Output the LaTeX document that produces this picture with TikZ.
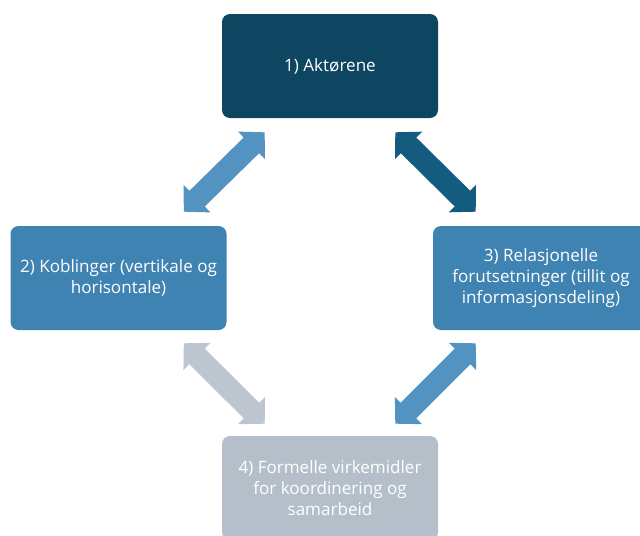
\documentclass[tikz,border=0pt]{standalone}
\usepackage{fontspec}
\setmainfont{Open Sans}
\usetikzlibrary{arrows.meta,calc}
\definecolor{cTop}{HTML}{0E4560}
\definecolor{cMid}{HTML}{3F83B2}
\definecolor{cLow}{HTML}{B4BFCA}
\definecolor{aBlue}{HTML}{5393C1}
\definecolor{aDark}{HTML}{135B7F}
\definecolor{aGrey}{HTML}{BDC6D0}
\begin{document}
\begin{tikzpicture}[x=0.75pt,y=-0.75pt,
  box/.style={rounded corners=6pt, minimum width=162pt, minimum height=78pt,
    align=center, text=white, inner sep=0pt,
    font=\fontsize{12.8}{15.8}\selectfont},
  link/.style={line width=16.5pt,
    {Triangle[length=14pt,width=28pt]}-{Triangle[length=14pt,width=28pt]}}]
\useasboundingbox (0,0) rectangle (640,536);
\clip (0,0) rectangle (640,536);
\node[box, fill=cTop] (b1) at (330,66) {1) Aktørene};
\node[box, fill=cMid] (b2) at (118.5,278) {2) Koblinger (vertikale og\\horisontale)};
\node[box, fill=cMid] (b3) at (541,278) {3) Relasjonelle\\forutsetninger (tillit og\\informasjonsdeling)};
\node[box, fill=cLow] (b4) at (330,488) {4) Formelle virkemidler\\for koordinering og\\samarbeid};
\draw[link, draw=aBlue, fill=aBlue] ($(b2.north east)+(-43,-14)$) -- ($(b1.south west)+(43,14)$);
\draw[link, draw=aDark, fill=aDark] ($(b1.south east)+(-43,14)$) -- ($(b3.north west)+(43,-14)$);
\draw[link, draw=aGrey, fill=aGrey] ($(b2.south east)+(-43,13)$) -- ($(b4.north west)+(43,-12)$);
\draw[link, draw=aBlue, fill=aBlue] ($(b4.north east)+(-43,-12)$) -- ($(b3.south west)+(43,13)$);
\end{tikzpicture}
\end{document}
